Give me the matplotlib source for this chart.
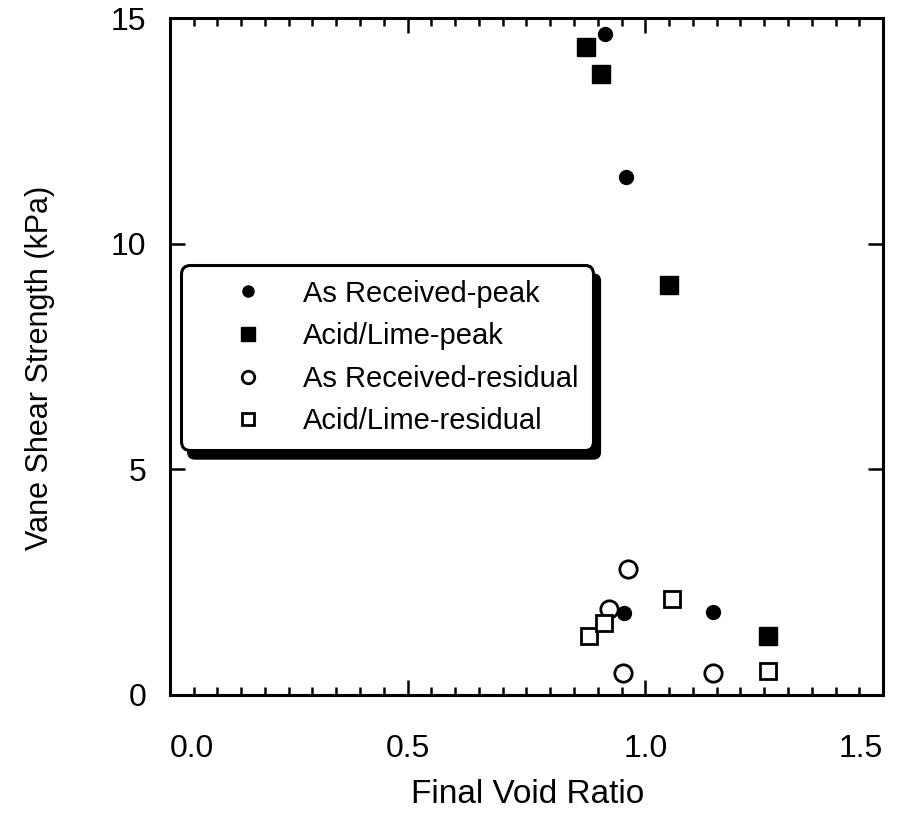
import matplotlib
matplotlib.use("Agg")
import matplotlib.pyplot as plt
from matplotlib.patches import FancyBboxPatch
from matplotlib.ticker import MultipleLocator

plt.rcParams['font.family'] = ['Liberation Sans', 'DejaVu Sans']

# As Received - peak
ar_peak_x = [0.916, 0.960, 0.956, 1.143]
ar_peak_y = [14.64, 11.48, 1.81, 1.83]
# Acid/Lime - peak
al_peak_x = [0.876, 0.907, 1.050, 1.257]
al_peak_y = [14.37, 13.77, 9.09, 1.30]
# As Received - residual
ar_res_x = [0.964, 0.924, 0.952, 1.143]
ar_res_y = [2.78, 1.90, 0.49, 0.49]
# Acid/Lime - residual
al_res_x = [0.882, 0.914, 1.055, 1.257]
al_res_y = [1.30, 1.59, 2.12, 0.53]

labels = ['As Received-peak', 'Acid/Lime-peak',
          'As Received-residual', 'Acid/Lime-residual']
x_ticks = [0.0, 0.5, 1.0, 1.5]
y_ticks = [0, 5, 10, 15]

fig = plt.figure(figsize=(9.18, 8.25), dpi=100)
ax = fig.add_axes([0.185, 0.158, 0.777, 0.820])

ax.plot(ar_peak_x, ar_peak_y, 'o', color='black', ms=10, label=labels[0])
ax.plot(al_peak_x, al_peak_y, 's', color='black', ms=13.5, label=labels[1])
ax.plot(ar_res_x, ar_res_y, 'o', mfc='white', mec='black', mew=2, ms=12.5,
        label=labels[2])
ax.plot(al_res_x, al_res_y, 's', mfc='white', mec='black', mew=2, ms=12,
        label=labels[3])

ax.set_xlim(0, 1.5)
ax.set_ylim(0, 15)
ax.set_xticks(x_ticks, ['%.1f' % v for v in x_ticks])
ax.set_yticks(y_ticks)
ax.xaxis.set_minor_locator(MultipleLocator(0.05))

for s in ax.spines.values():
    s.set_linewidth(2.2)
ax.tick_params(which='both', direction='in', top=True, right=True,
               width=1.8, labelsize=23, colors='black')
ax.tick_params(which='major', length=11)
ax.tick_params(which='minor', length=6)
ax.tick_params(axis='x', pad=28)
ax.tick_params(axis='y', pad=17)

ax.set_xlabel('Final Void Ratio', fontsize=24, va='center')
ax.xaxis.set_label_coords(0.502, -0.148)
ax.set_ylabel('Vane Shear Strength (kPa)', fontsize=22, va='center')
ax.yaxis.set_label_coords(-0.182, 0.483)

# end labels on the x axis sit inside the frame
xlabs = ax.get_xticklabels()
xlabs[0].set_ha('left')
xlabs[-1].set_ha('right')

leg = ax.legend(loc='upper left', bbox_to_anchor=(0.0154, 0.635),
                borderaxespad=0, fontsize=21, handlelength=3.6,
                handletextpad=0.1, borderpad=0.5, labelspacing=0.5,
                frameon=True, fancybox=True, framealpha=1)
frame = leg.get_frame()
frame.set_edgecolor('black')
frame.set_linewidth(2.2)
frame.set_boxstyle('round,pad=0,rounding_size=0.3')
sizes = [8, 10.5, 9, 9]
for h, m in zip(leg.legend_handles, sizes):
    h.set_markersize(m)
leg.set_zorder(5)

# drop shadow behind the legend box
fig.canvas.draw()
bb = leg.get_window_extent()
inv = ax.transAxes.inverted()
(x0, y0), (x1, y1) = inv.transform([[bb.x0 + 7, bb.y0 - 9], [bb.x1 + 7, bb.y1 - 9]])
shadow = FancyBboxPatch((x0, y0), x1 - x0, y1 - y0, transform=ax.transAxes,
                        boxstyle='round,pad=0,rounding_size=0.01',
                        facecolor='black', edgecolor='black', zorder=4.5,
                        clip_on=False)
ax.add_patch(shadow)

fig.savefig('out.png', dpi=100)
